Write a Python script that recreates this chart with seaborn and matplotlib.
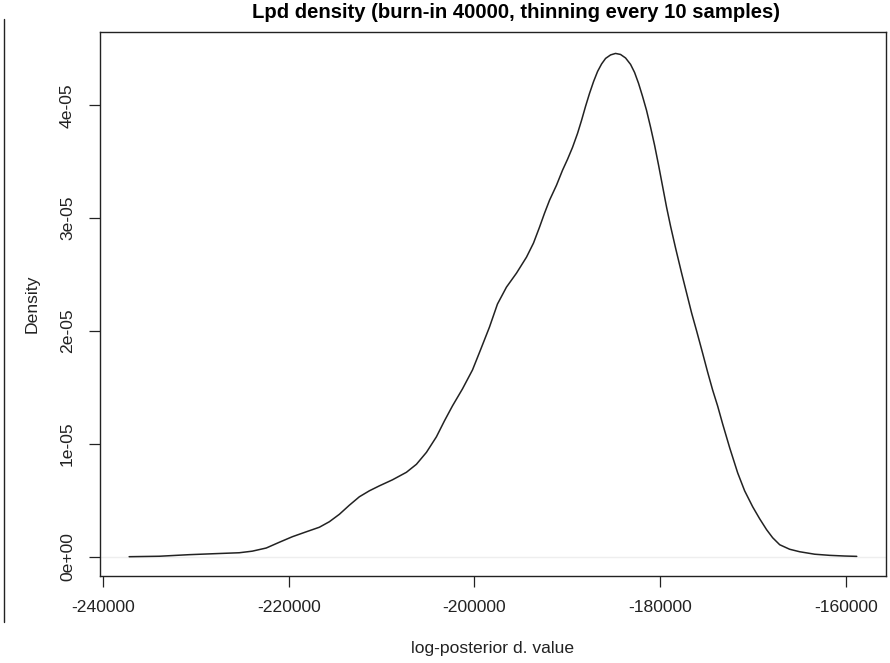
import numpy as np
import pandas as pd
import matplotlib
matplotlib.use("Agg")
import matplotlib.pyplot as plt
from matplotlib.lines import Line2D
import seaborn as sns

# Values
lpd_value = [
    -237200, -233960, -230730, -227930, -225340, -223940, -222430, -221020,
    -219620, -218110, -216710, -215630, -214550, -213480, -212400, -211320,
    -210240, -208840, -207330, -206250, -205170, -204100, -203230, -202370,
    -201290, -200210, -199350, -198380, -197520, -196550, -195470, -194390,
    -193640, -192990, -192450, -191910, -191160, -190510, -189970, -189430,
    -188890, -188460, -188030, -187600, -187160, -186730, -186300, -185870,
    -185330, -184800, -184260, -183720, -183180, -182750, -182320, -181890,
    -181460, -181020, -180590, -180160, -179730, -179300, -178870, -178330,
    -177680, -177140, -176600, -176060, -175420, -174880, -174340, -173800,
    -173260, -172500, -171640, -170890, -170020, -169270, -168520, -167870,
    -167110, -166040, -164960, -163340, -161720, -160100, -158810,
]
density_e5 = [
    0.000, 0.004, 0.018, 0.027, 0.035, 0.049, 0.077, 0.128,
    0.177, 0.221, 0.261, 0.310, 0.376, 0.456, 0.531, 0.584,
    0.628, 0.681, 0.748, 0.819, 0.925, 1.062, 1.204, 1.336,
    1.487, 1.655, 1.832, 2.035, 2.239, 2.389, 2.513, 2.655,
    2.779, 2.920, 3.044, 3.159, 3.292, 3.425, 3.522, 3.628,
    3.752, 3.867, 3.991, 4.106, 4.212, 4.301, 4.367, 4.416,
    4.447, 4.460, 4.451, 4.420, 4.363, 4.292, 4.195, 4.080,
    3.956, 3.805, 3.646, 3.469, 3.283, 3.097, 2.929, 2.735,
    2.513, 2.336, 2.159, 2.000, 1.805, 1.637, 1.478, 1.336,
    1.177, 0.965, 0.743, 0.584, 0.442, 0.336, 0.239, 0.168,
    0.106, 0.066, 0.044, 0.022, 0.012, 0.006, 0.003,
]
x_ticks = [-240000, -220000, -200000, -180000, -160000]
y_ticks = [0, 1e-05, 2e-05, 3e-05, 4e-05]
y_tick_labels = ["0e+00", "1e-05", "2e-05", "3e-05", "4e-05"]

df = pd.DataFrame({"x": lpd_value, "y": np.array(density_e5) * 1e-5})

sns.set_style("white")
plt.rcParams["font.family"] = ["Liberation Sans", "DejaVu Sans"]

W, H = 890, 663
fig = plt.figure(figsize=(W / 100, H / 100), dpi=100)
left, right, top, bottom = 100, 886, 32, 576
ax = fig.add_axes([left / W, 1 - bottom / H, (right - left) / W, (bottom - top) / H])

ax.axhline(0, color="#eeeeee", lw=1.0, zorder=1)
sns.lineplot(data=df, x="x", y="y", ax=ax, color="#222222", lw=1.1, sort=False, zorder=3)

ax.set_xlim(-240340, -155660)
ax.set_ylim(-1.71e-06, 4.65e-05)
ax.set_xticks(x_ticks)
ax.set_xticklabels([str(v) for v in x_ticks])
ax.set_yticks(y_ticks)
ax.set_yticklabels(y_tick_labels, rotation=90, va="center")

for s in ax.spines.values():
    s.set_visible(True)
    s.set_color("#222222")
    s.set_linewidth(1.0)

ax.tick_params(axis="both", direction="out", length=8, width=0.9, color="#222222",
               labelsize=12.6, labelcolor="#222222", bottom=True, left=True)
ax.tick_params(axis="x", pad=9)
ax.tick_params(axis="y", pad=10)

ax.set_xlabel("log-posterior d. value", fontsize=12.6, color="#222222", labelpad=19)
ax.set_ylabel("Density", fontsize=12.6, color="#222222", labelpad=15)
ax.grid(False)

fig.text(516 / W, 1 - 18 / H, "Lpd density (burn-in 40000, thinning every 10 samples)",
         ha="center", va="baseline", fontsize=14.6, fontweight="bold", color="black")

fig.add_artist(Line2D([3.5 / W, 3.5 / W], [1 - 19 / H, 1 - 622 / H],
                      transform=fig.transFigure, color="#222222", lw=1.0))

fig.savefig("out.png", dpi=100)
